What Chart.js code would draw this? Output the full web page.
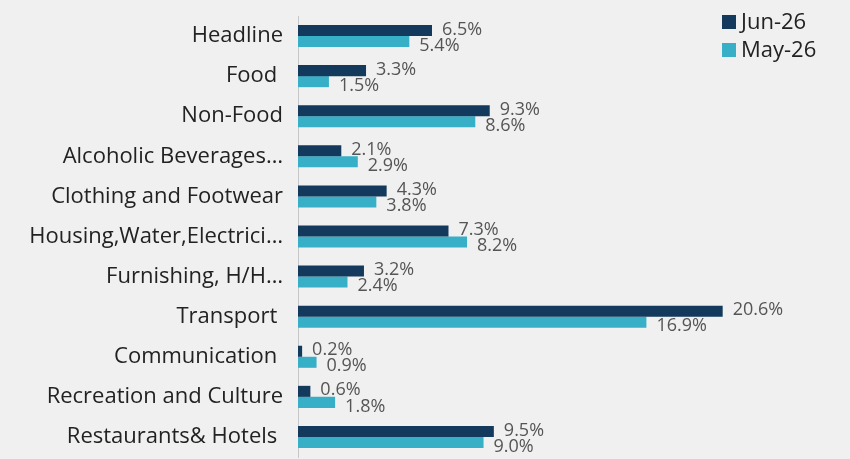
<!DOCTYPE html>
<html>
<head>
<meta charset="utf-8">
<script src="https://cdn.jsdelivr.net/npm/chart.js@4"></script>
<style>
  html, body { margin: 0; padding: 0; background: #f0f0f0; }
</style>
</head>
<body>
<canvas id="cpiChart" width="850" height="459"></canvas>
<script>
// categories and series
const categories = [
  'Headline', 'Food ', 'Non-Food', 'Alcoholic Beverages…', 'Clothing and Footwear',
  'Housing,Water,Electrici…', 'Furnishing, H/H…', 'Transport ', 'Communication ',
  'Recreation and Culture', 'Restaurants& Hotels '
];
const jun26 = [6.5, 3.3, 9.3, 2.1, 4.3, 7.3, 3.2, 20.6, 0.2, 0.6, 9.5];
const may26 = [5.4, 1.5, 8.6, 2.9, 3.8, 8.2, 2.4, 16.9, 0.9, 1.8, 9.0];
const seriesNames = ['Jun-26', 'May-26'];

const navy = '#133a5c';
const teal = '#36afc7';

// value labels next to each bar
const barLabels = {
  id: 'barLabels',
  afterDatasetsDraw(chart) {
    const ctx = chart.ctx;
    ctx.save();
    ctx.font = '18px "Open Sans"';
    ctx.fillStyle = '#555555';
    ctx.textBaseline = 'middle';
    chart.data.datasets.forEach((ds, i) => {
      chart.getDatasetMeta(i).data.forEach((bar, j) => {
        const txt = ds.data[j].toFixed(1) + '%';
        const dy = i === 0 ? -1 : 4;
        ctx.fillText(txt, bar.x + 10, bar.y + dy);
      });
    });
    ctx.restore();
  }
};

// legend top-right
const cornerLegend = {
  id: 'cornerLegend',
  afterDraw(chart) {
    const ctx = chart.ctx;
    const colors = [navy, teal];
    ctx.save();
    ctx.font = '22px "Open Sans"';
    ctx.textBaseline = 'middle';
    seriesNames.forEach((name, i) => {
      const y = 22 + i * 28;
      ctx.fillStyle = colors[i];
      ctx.fillRect(722, y - 7, 14, 14);
      ctx.fillStyle = '#222222';
      ctx.fillText(name, 741, y + 1);
    });
    ctx.restore();
  }
};

const ctx = document.getElementById('cpiChart').getContext('2d');
new Chart(ctx, {
  type: 'bar',
  data: {
    labels: categories,
    datasets: [
      { label: seriesNames[0], data: jun26, backgroundColor: navy },
      { label: seriesNames[1], data: may26, backgroundColor: teal }
    ]
  },
  options: {
    indexAxis: 'y',
    responsive: false,
    animation: false,
    layout: { padding: { top: 16, right: 16, bottom: 2, left: 0 } },
    datasets: {
      bar: { barPercentage: 1, categoryPercentage: 0.55 }
    },
    plugins: {
      legend: { display: false },
      tooltip: { enabled: false }
    },
    scales: {
      x: {
        display: false,
        min: 0,
        max: 26
      },
      y: {
        grid: { display: false },
        border: { display: true, color: '#c8c8c8', width: 1 },
        ticks: {
          color: '#222222',
          font: { family: 'Open Sans', size: 22 },
          padding: 7
        },
        afterFit(scale) {
          scale.width = 298;
          scale.paddingTop = 0;
          scale.paddingBottom = 0;
        }
      }
    }
  },
  plugins: [barLabels, cornerLegend]
});
</script>
</body>
</html>
